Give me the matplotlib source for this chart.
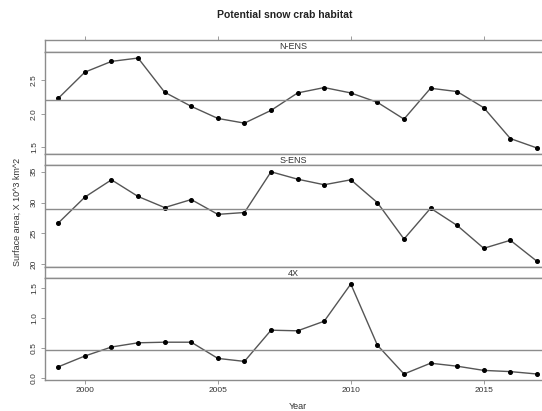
"""Potential snow crab habitat by area, stacked lattice-style panels."""
import matplotlib

matplotlib.use("Agg")
import matplotlib.pyplot as plt
import numpy as np

plt.rcParams["font.family"] = ["Liberation Sans", "DejaVu Sans"]

years = np.arange(1999, 2018)
areas = ["N-ENS", "S-ENS", "4X"]
n_ens = [2.23, 2.62, 2.78, 2.83, 2.32, 2.11, 1.93, 1.86, 2.05, 2.31,
         2.39, 2.31, 2.17, 1.92, 2.38, 2.33, 2.09, 1.63, 1.49]
s_ens = [26.7, 30.9, 33.7, 31.0, 29.2, 30.5, 28.1, 28.4, 35.0, 33.8,
         32.9, 33.7, 30.0, 24.1, 29.1, 26.3, 22.6, 23.9, 20.5]
x4 = [0.19, 0.37, 0.52, 0.59, 0.60, 0.60, 0.33, 0.28, 0.80, 0.79,
      0.95, 1.57, 0.55, 0.07, 0.25, 0.20, 0.13, 0.11, 0.07]
series = [n_ens, s_ens, x4]
ylims = [(1.40, 2.92), (19.57, 36.1), (-0.03, 1.67)]
yticks = [[1.5, 2.0, 2.5], [20, 25, 30, 35], [0.0, 0.5, 1.0, 1.5]]
xticks = [2000, 2005, 2010, 2015]

W, H = 542, 411
fig = plt.figure(figsize=(W / 100, H / 100), dpi=100)

box = "#8c8c8c"
left, right = 45, 542
xlim = (1998.5, 2017.19)
# (strip top, strip bottom / panel top, panel bottom) in pixels from top
rows = [(40, 52, 154), (154, 165, 267), (267, 278, 380)]


def px_axes(x0, x1, y0, y1):
    return fig.add_axes([x0 / W, 1 - y1 / H, (x1 - x0) / W, (y1 - y0) / H])


for i, (name, vals, (st, pt, pb)) in enumerate(zip(areas, series, rows)):
    strip = px_axes(left, right, st, pt)
    strip.set_xlim(xlim)
    strip.set_ylim(0, 1)
    strip.set_yticks([])
    strip.text(0.5, 0.45, name, transform=strip.transAxes, ha="center",
               va="center", fontsize=6.5, color="#333333")
    if i == 0:
        strip.xaxis.set_ticks_position("top")
        strip.set_xticks(xticks)
        strip.set_xticklabels([])
        strip.tick_params(axis="x", length=3, width=0.6, color=box)
    else:
        strip.set_xticks([])
    for sp in strip.spines.values():
        sp.set_color(box)
        sp.set_linewidth(1.0)
    strip.spines["right"].set_visible(False)

    ax = px_axes(left, right, pt, pb)
    ax.plot(years, vals, color="#555555", lw=1.0, marker="o", ms=2.6,
            mfc="black", mec="black")
    ax.axhline(np.mean(vals), color=box, lw=1.0)
    ax.set_xlim(xlim)
    ax.set_ylim(ylims[i])
    ax.set_yticks(yticks[i])
    ax.set_yticklabels([f"{v:g}" if isinstance(v, int) else f"{v:.1f}" for v in yticks[i]],
                       rotation=90, va="center", fontsize=6, color="#333333")
    ax.tick_params(axis="y", length=3, width=0.6, color=box, pad=2)
    if i == 2:
        ax.set_xticks(xticks)
        ax.set_xticklabels([str(t) for t in xticks], fontsize=6, color="#333333")
        ax.tick_params(axis="x", length=3, width=0.6, color=box, pad=2)
    else:
        ax.set_xticks([])
    for sp in ax.spines.values():
        sp.set_color(box)
        sp.set_linewidth(1.0)
    ax.spines["right"].set_visible(False)

fig.text(285 / W, 1 - 15 / H, "Potential snow crab habitat", ha="center",
         va="center", fontsize=7.5, fontweight="bold", color="#222222")
fig.text(298 / W, 1 - 406 / H, "Year", ha="center", va="center",
         fontsize=6.5, color="#333333")
fig.text(17 / W, 1 - 212 / H, "Surface area; X 10^3 km^2", ha="center",
         va="center", rotation=90, fontsize=6.5, color="#333333")

fig.savefig("out.png", dpi=100)
